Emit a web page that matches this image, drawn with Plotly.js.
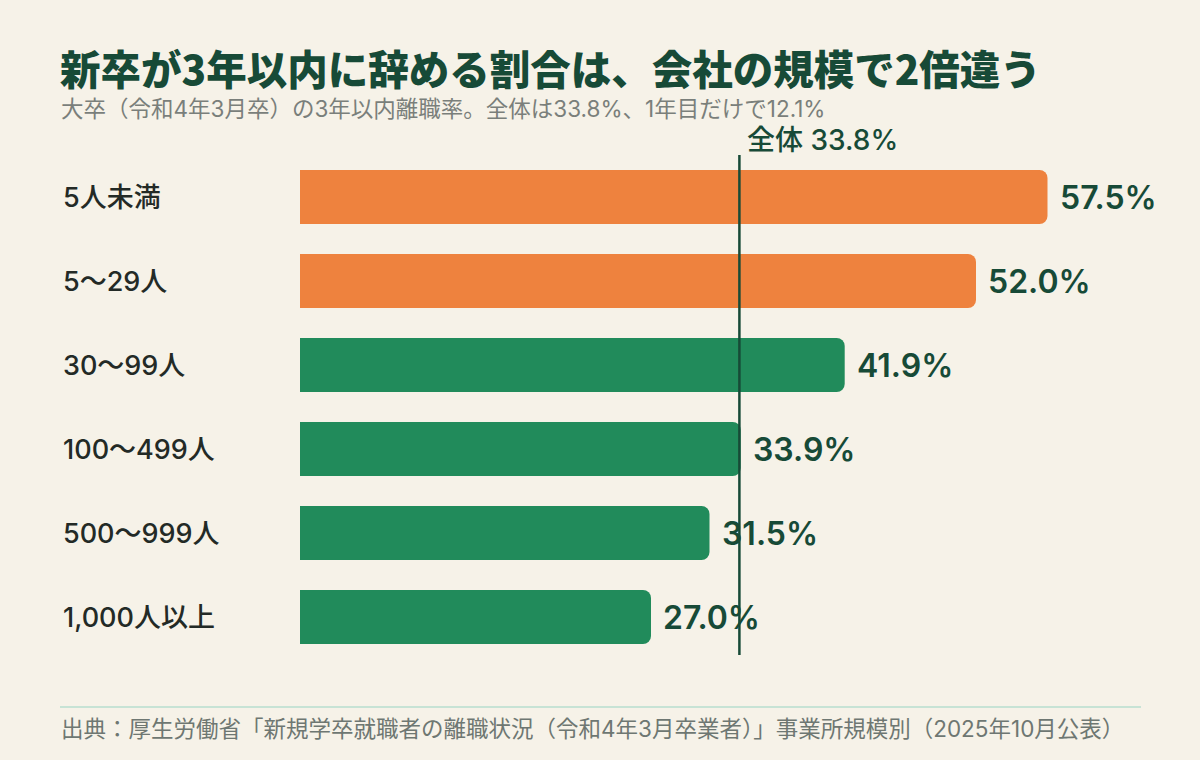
<!DOCTYPE html>
<html><head><meta charset="utf-8">
<script src="https://cdn.plot.ly/plotly-3.0.1.min.js"></script>
<style>html,body{margin:0;padding:0;background:#F6F2E8;}#chart{width:1200px;height:760px;}</style>
</head><body><div id="chart"></div>
<script>
const categories = ["5人未満","5〜29人","30〜99人","100〜499人","500〜999人","1,000人以上"];
const rates = [57.5, 52.0, 41.9, 33.9, 31.5, 27.0];
const barColors = ["#EE823E","#EE823E","#218B5B","#218B5B","#218B5B","#218B5B"];
const overall = 33.8;
const overallLabel = "全体 33.8%";
const titleText = "新卒が3年以内に辞める割合は、会社の規模で2倍違う";
const subtitleText = "大卒（令和4年3月卒）の3年以内離職率。全体は33.8%、1年目だけで12.1%";
const sourceText = "出典：厚生労働省「新規学卒就職者の離職状況（令和4年3月卒業者）」事業所規模別（2025年10月公表）";

const FONT = "Inter, 'Noto Sans CJK JP', sans-serif";
const DARK = "#174A37";

const W = 1200, L = 300, R = 60, T = 155, B = 101;
const plotW = W - L - R;
const plotH = 760 - T - B;
const xMax = plotW / 13.0;
const px = v => (v - L) / plotW;          // pixel x -> paper
const py = v => (760 - B - v) / plotH;    // pixel y -> paper

const annotations = [];
categories.forEach((c, i) => {
  annotations.push({
    xref: 'paper', yref: 'y', x: px(61), y: c, xanchor: 'left',
    text: c, showarrow: false,
    font: {family: FONT, size: 27, color: "#232A26", weight: 500}
  });
  annotations.push({
    xref: 'x', yref: 'y', x: rates[i], y: c, xanchor: 'left', xshift: 10,
    text: rates[i].toFixed(1) + "%", showarrow: false,
    font: {family: FONT, size: 32, color: DARK, weight: 600}
  });
});
annotations.push({
  xref: 'x', yref: 'paper', x: overall, y: py(140), xanchor: 'left', yanchor: 'middle',
  xshift: 6, text: overallLabel, showarrow: false,
  font: {family: FONT, size: 28, color: DARK, weight: 500}
});
annotations.push(
  {xref: 'paper', yref: 'paper', x: px(58), y: py(68), xanchor: 'left', yanchor: 'middle',
   text: titleText, showarrow: false,
   font: {family: "'Noto Sans CJK JP', sans-serif", size: 40.5, color: DARK, weight: 900}},
  {xref: 'paper', yref: 'paper', x: px(59), y: py(108), xanchor: 'left', yanchor: 'middle',
   text: subtitleText, showarrow: false,
   font: {family: FONT, size: 22.5, color: "#7A7F7B"}},
  {xref: 'paper', yref: 'paper', x: px(59), y: py(728), xanchor: 'left', yanchor: 'middle',
   text: sourceText, showarrow: false,
   font: {family: FONT, size: 22.5, color: "#6E7772"}}
);

const layout = {
  width: 1200, height: 760,
  paper_bgcolor: "#F6F2E8", plot_bgcolor: "#F6F2E8",
  margin: {l: L, r: R, t: T, b: B},
  showlegend: false,
  bargap: 0.357,
  xaxis: {range: [0, xMax], visible: false, fixedrange: true},
  yaxis: {type: 'category', categoryorder: 'array', categoryarray: categories.slice().reverse(),
          visible: false, fixedrange: true},
  annotations: annotations,
  shapes: [
    {type: 'line', xref: 'x', yref: 'paper', x0: overall, x1: overall, y0: py(655), y1: 1,
     line: {color: DARK, width: 2.5}},
    {type: 'line', xref: 'paper', yref: 'paper', x0: px(60), x1: px(1141),
     y0: py(707), y1: py(707), line: {color: "#C7E3D5", width: 2}}
  ]
};

Plotly.newPlot('chart', [{
  type: 'bar', orientation: 'h', x: rates, y: categories,
  marker: {color: barColors, cornerradius: 8},
  hoverinfo: 'skip'
}], layout, {staticPlot: true});
</script></body></html>
